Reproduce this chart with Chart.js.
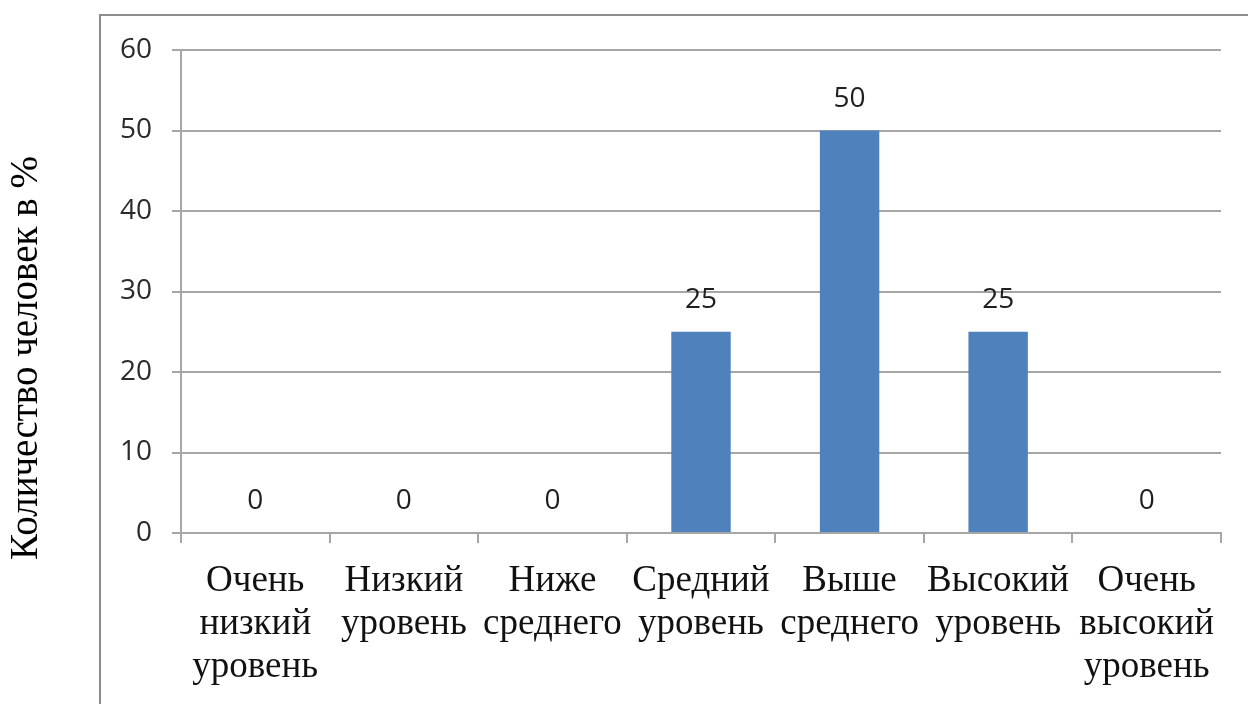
<!DOCTYPE html>
<html>
<head>
<meta charset="utf-8">
<script src="https://cdn.jsdelivr.net/npm/chart.js@4"></script>
<style>
  html, body { margin: 0; padding: 0; background: #fff; }
  #wrap { width: 1248px; height: 704px; position: relative; }
</style>
</head>
<body>
<div id="wrap"><canvas id="levelChart" width="1248" height="704"></canvas></div>
<script>
// --- Data ---
const categories = [
    ['Очень', 'низкий', 'уровень'],
    ['Низкий', 'уровень'],
    ['Ниже', 'среднего'],
    ['Средний', 'уровень'],
    ['Выше', 'среднего'],
    ['Высокий', 'уровень'],
    ['Очень', 'высокий', 'уровень']
];
const percentValues = [0, 0, 0, 25, 50, 25, 0];
const yTicks = [0, 10, 20, 30, 40, 50, 60];
const yTitle = 'Количество человек в %';

const serifFont = '"Liberation Serif", "Times New Roman", serif';
const sansFont = '"Open Sans", "Liberation Sans", sans-serif';
const gridColor = '#a6a6a6';

// frame + rotated axis title
const framePlugin = {
    id: 'frame',
    beforeDraw(chart) {
        const ctx = chart.ctx;
        ctx.save();
        ctx.strokeStyle = '#8c8c8c';
        ctx.lineWidth = 2;
        ctx.strokeRect(100, 15, 1300, 900);
        ctx.restore();
    },
    afterDraw(chart) {
        const ctx = chart.ctx;
        ctx.save();
        ctx.translate(37, 358);
        ctx.rotate(-Math.PI / 2);
        ctx.font = '39px ' + serifFont;
        ctx.fillStyle = '#000';
        ctx.textAlign = 'center';
        ctx.textBaseline = 'alphabetic';
        ctx.fillText(yTitle, 0, 0);
        ctx.restore();
    }
};

// value labels above bars
const valueLabels = {
    id: 'valueLabels',
    afterDatasetsDraw(chart) {
        const ctx = chart.ctx;
        const meta = chart.getDatasetMeta(0);
        ctx.save();
        ctx.font = '28px ' + sansFont;
        ctx.fillStyle = '#1f1f1f';
        ctx.textAlign = 'center';
        ctx.textBaseline = 'alphabetic';
        meta.data.forEach((bar, i) => {
            ctx.fillText(String(percentValues[i]), bar.x, bar.y - 24);
        });
        ctx.restore();
    }
};

const ctx = document.getElementById('levelChart').getContext('2d');
new Chart(ctx, {
    type: 'bar',
    data: {
        labels: categories,
        datasets: [{
            data: percentValues,
            backgroundColor: '#4f81bd',
            borderWidth: 0,
            categoryPercentage: 1,
            barPercentage: 0.4
        }]
    },
    options: {
        responsive: false,
        animation: false,
        layout: { padding: { top: 50, right: 27, bottom: 0, left: 0 } },
        plugins: {
            legend: { display: false },
            tooltip: { enabled: false }
        },
        scales: {
            x: {
                afterFit(scale) { scale.height = 171; },
                grid: {
                    offset: true,
                    drawOnChartArea: false,
                    color: gridColor,
                    lineWidth: 2,
                    tickLength: 10
                },
                border: { color: gridColor, width: 2 },
                ticks: {
                    color: '#111',
                    padding: 17,
                    maxRotation: 0,
                    autoSkip: false,
                    font: { family: serifFont, size: 37, lineHeight: '43px' }
                }
            },
            y: {
                min: 0,
                max: 60,
                afterFit(scale) { scale.width = 181; },
                afterBuildTicks(scale) { scale.ticks = yTicks.map(v => ({ value: v })); },
                grid: {
                    color: gridColor,
                    lineWidth: 2,
                    tickLength: 9
                },
                border: { color: gridColor, width: 2 },
                ticks: {
                    color: '#2b2b2b',
                    padding: 20,
                    font: { family: sansFont, size: 28 }
                }
            }
        }
    },
    plugins: [framePlugin, valueLabels]
});
</script>
</body>
</html>
